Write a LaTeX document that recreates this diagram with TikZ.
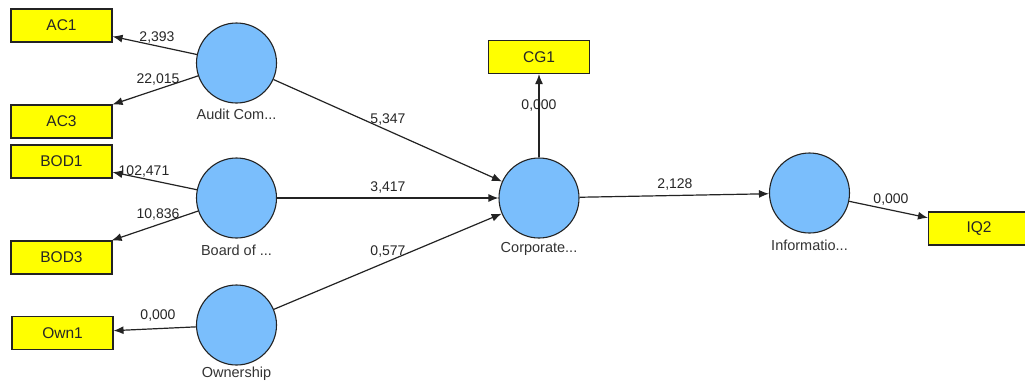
\documentclass[tikz,border=0pt]{standalone}
\usepackage{fontspec}
\setmainfont{Liberation Sans}
\usetikzlibrary{arrows.meta}
\definecolor{lv}{RGB}{122,190,252}
\definecolor{ind}{RGB}{255,255,0}
\definecolor{edge}{RGB}{35,35,35}
\tikzset{
  lvar/.style={circle,draw=edge,line width=1.1pt,fill=lv,minimum size=80pt,inner sep=0pt},
  ivar/.style={rectangle,draw=edge,line width=1.1pt,fill=ind,minimum width=101pt,minimum height=33pt,inner sep=0pt,font=\fontsize{15.5}{17}\selectfont,text=black!85},
  lvlab/.style={font=\fontsize{14.5}{16}\selectfont,text=black!80},
  plab/.style={font=\fontsize{14}{16}\selectfont,text=black!85},
  conn/.style={draw=edge,line width=1.2pt,-{Latex[length=10pt,width=8pt]}}
}
\begin{document}
\begin{tikzpicture}[x=1pt,y=-1pt]
\useasboundingbox[fill=white] (0,0) rectangle (1025,383);
% latent variables
\node[lvar] (audit) at (236.5,63) {};
\node[lvar] (board) at (236.5,198) {};
\node[lvar] (own) at (236.5,325) {};
\node[lvar] (corp) at (539,198) {};
\node[lvar] (info) at (809.5,193) {};
\node[lvlab] (auditl) at (236.5,114) {Audit Com...};
\node[lvlab] (boardl) at (236.5,250) {Board of ...};
\node[lvlab] (ownl) at (236.5,374) {Ownership};
\node[lvlab] (corpl) at (539,249) {Corporate...};
\node[lvlab] (infol) at (809.5,245) {Informatio...};
% indicators
\node[ivar] (ac1) at (61.5,25.5) {AC1};
\node[ivar] (ac3) at (61.5,121.5) {AC3};
\node[ivar] (bod1) at (61.5,161.5) {BOD1};
\node[ivar] (bod3) at (61.5,257.5) {BOD3};
\node[ivar] (own1) at (62.5,333) {Own1};
\node[ivar] (cg1) at (539,57) {CG1};
\node[ivar] (iq2) at (979,228.5) {IQ2};
% connectors
\draw[conn] (audit) -- (ac1);
\draw[conn] (audit) -- (ac3);
\draw[conn] (board) -- (bod1);
\draw[conn] (board) -- (bod3);
\draw[conn] (own) -- (own1);
\draw[conn] (corp) -- (cg1);
\draw[conn] (info) -- (iq2);
\draw[conn] (audit) -- (corp);
\draw[conn] (board) -- (corp);
\draw[conn] (own) -- (corp);
\draw[conn] (corp) -- (info);
% path labels
\node[plab] (l1) at (157,38) {2,393};
\node[plab] (l2) at (158,80) {22,015};
\node[plab] (l3) at (144,172) {102,471};
\node[plab] (l4) at (158,215) {10,836};
\node[plab] (l5) at (158,316) {0,000};
\node[plab] (l6) at (388,120) {5,347};
\node[plab] (l7) at (388,188) {3,417};
\node[plab] (l8) at (388,252) {0,577};
\node[plab] (l9) at (539,106) {0,000};
\node[plab] (l10) at (675,185) {2,128};
\node[plab] (l11) at (891,200) {0,000};
\end{tikzpicture}
\end{document}
